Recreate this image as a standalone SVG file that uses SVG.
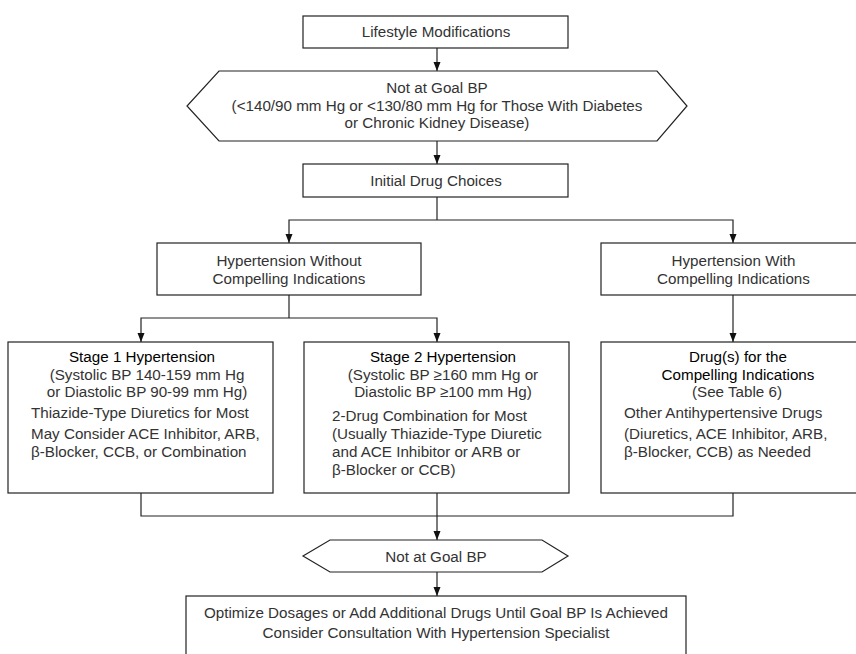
<svg xmlns="http://www.w3.org/2000/svg" width="856" height="654" viewBox="0 0 856 654">
<style>
.box{fill:#fff;stroke:#222;stroke-width:1.2}
.t{font-family:"Liberation Sans",Arial,sans-serif;font-size:15.2px;fill:#333}
.c{text-anchor:middle}
.h{fill:#000}
.ln{fill:none;stroke:#222;stroke-width:1.2}
.ar{fill:none;stroke:#222;stroke-width:1.2;marker-end:url(#ah)}
</style>
<defs>
<marker id="ah" markerUnits="userSpaceOnUse" markerWidth="10" markerHeight="8" refX="9" refY="3.5" orient="auto">
<path d="M0,0 L9,3.5 L0,7 z" fill="#111"/>
</marker>
</defs>
<rect width="856" height="654" fill="#fff"/>
<g id="connectors">
<line class="ar" x1="437" y1="48" x2="437" y2="71"/>
<line class="ar" x1="437" y1="141" x2="437" y2="164"/>
<polyline class="ln" points="437,197 437,220"/>
<polyline class="ar" points="437,220 289,220 289,243"/>
<polyline class="ar" points="437,220 733,220 733,243"/>
<polyline class="ln" points="289,295 289,318"/>
<polyline class="ar" points="289,318 141,318 141,342"/>
<polyline class="ar" points="289,318 437,318 437,342"/>
<line class="ar" x1="733" y1="295" x2="733" y2="342"/>
<polyline class="ln" points="141,493 141,516 733,516 733,493"/>
<line class="ar" x1="437" y1="493" x2="437" y2="540"/>
<line class="ar" x1="437" y1="572" x2="437" y2="596"/>
</g>
<g id="lifestyle">
<rect class="box" x="303" y="16" width="265" height="32"/>
<text class="t c" x="436" y="37">Lifestyle Modifications</text>
</g>
<g id="not-at-goal-1">
<polygon class="box" points="219,71 657,71 687,106 657,141 219,141 187,106"/>
<text class="t c" x="437" y="93">Not at Goal BP</text>
<text class="t c" x="437" y="110.5">(&lt;140/90 mm Hg or &lt;130/80 mm Hg for Those With Diabetes</text>
<text class="t c" x="437" y="128">or Chronic Kidney Disease)</text>
</g>
<g id="initial">
<rect class="box" x="303" y="164" width="265" height="33"/>
<text class="t c" x="436" y="186">Initial Drug Choices</text>
</g>
<g id="without">
<rect class="box" x="157" y="243" width="264" height="52"/>
<text class="t c" x="289" y="266">Hypertension Without</text>
<text class="t c" x="289" y="284">Compelling Indications</text>
</g>
<g id="with">
<rect class="box" x="601" y="243" width="265" height="52"/>
<text class="t c" x="733.5" y="266">Hypertension With</text>
<text class="t c" x="733.5" y="284">Compelling Indications</text>
</g>
<g id="stage1">
<rect class="box" x="8" y="342" width="265" height="151"/>
<text class="t c h" x="142" y="362">Stage 1 Hypertension</text>
<text class="t c" x="147" y="380">(Systolic BP 140-159 mm Hg</text>
<text class="t c" x="147" y="397">or Diastolic BP 90-99 mm Hg)</text>
<text class="t" x="31" y="418">Thiazide-Type Diuretics for Most</text>
<text class="t" x="31" y="439">May Consider ACE Inhibitor, ARB,</text>
<text class="t" x="31" y="457">β-Blocker, CCB, or Combination</text>
</g>
<g id="stage2">
<rect class="box" x="304" y="342" width="265" height="151"/>
<text class="t c h" x="443" y="362">Stage 2 Hypertension</text>
<text class="t c" x="443" y="380">(Systolic BP ≥160 mm Hg or</text>
<text class="t c" x="443" y="397">Diastolic BP ≥100 mm Hg)</text>
<text class="t" x="332" y="421">2-Drug Combination for Most</text>
<text class="t" x="332" y="439">(Usually Thiazide-Type Diuretic</text>
<text class="t" x="332" y="457">and ACE Inhibitor or ARB or</text>
<text class="t" x="332" y="475">β-Blocker or CCB)</text>
</g>
<g id="compelling-drugs">
<rect class="box" x="601" y="342" width="265" height="151"/>
<text class="t c h" x="738" y="362">Drug(s) for the</text>
<text class="t c h" x="738" y="380">Compelling Indications</text>
<text class="t c" x="737" y="397">(See Table 6)</text>
<text class="t" x="624" y="418">Other Antihypertensive Drugs</text>
<text class="t" x="624" y="439">(Diuretics, ACE Inhibitor, ARB,</text>
<text class="t" x="624" y="457">β-Blocker, CCB) as Needed</text>
</g>
<g id="not-at-goal-2">
<polygon class="box" points="330,540 542,540 568,556 542,572 330,572 303,556"/>
<text class="t c" x="436" y="562">Not at Goal BP</text>
</g>
<g id="optimize">
<rect class="box" x="186" y="596" width="500" height="70"/>
<text class="t c" x="436" y="618">Optimize Dosages or Add Additional Drugs Until Goal BP Is Achieved</text>
<text class="t c" x="436" y="638">Consider Consultation With Hypertension Specialist</text>
</g>
</svg>
